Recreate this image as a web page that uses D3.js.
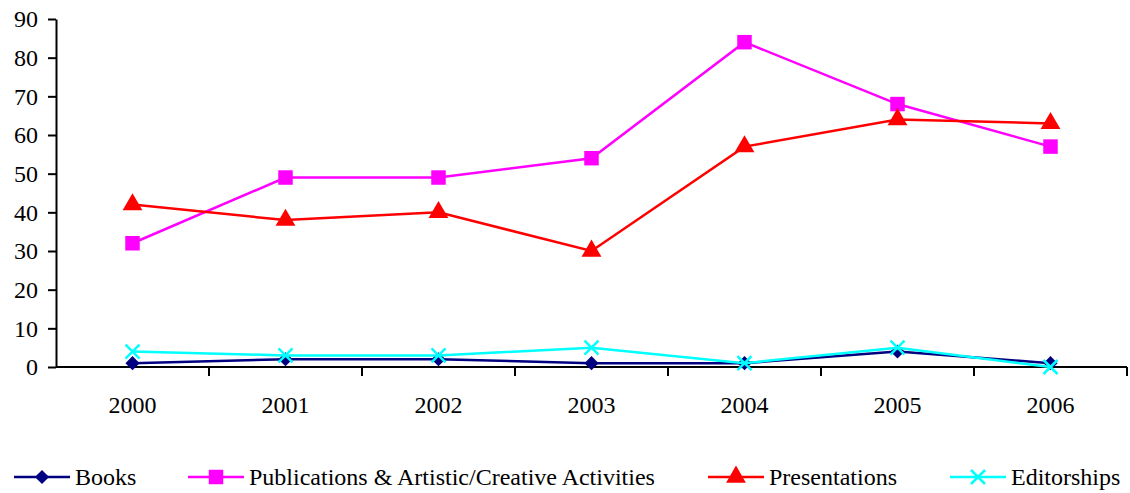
<!DOCTYPE html>
<html>
<head>
<meta charset="utf-8">
<script src="https://cdn.jsdelivr.net/npm/d3@7"></script>
<style>
  body { margin: 0; background: #fff; }
</style>
</head>
<body>
<svg id="chart" width="1130" height="493"></svg>
<script>
const years = ["2000", "2001", "2002", "2003", "2004", "2005", "2006"];
const books = [1, 2, 2, 1, 1, 4, 1];
const publications = [32, 49, 49, 54, 84, 68, 57];
const presentations = [42, 38, 40, 30, 57, 64, 63];
const editorships = [4, 3, 3, 5, 1, 5, 0];
const yTicks = [0, 10, 20, 30, 40, 50, 60, 70, 80, 90];

const FONT = "'Liberation Serif'";

const series = [
  {name: "Books", values: books, color: "#000080", symbol: d3.symbolSquare, size: 100, rot: 45},
  {name: "Publications & Artistic/Creative Activities", values: publications, color: "#ff00ff", symbol: d3.symbolSquare, size: 210, rot: 0},
  {name: "Presentations", values: presentations, color: "#ff0000", symbol: d3.symbolTriangle, size: 170, rot: 0},
  {name: "Editorships", values: editorships, color: "#00ffff", symbol: null, size: 0, rot: 0}
];

const margin = {top: 19, left: 56, right: 3, bottom: 126};
const width = 1130, height = 493;
const svg = d3.select("#chart");

const x = d3.scaleBand()
  .domain(years)
  .range([margin.left, width - margin.right]);

const y = d3.scaleLinear()
  .domain([0, 90])
  .range([height - margin.bottom, margin.top]);

// y axis
const yAxis = svg.append("g")
  .attr("transform", "translate(" + margin.left + ",0)")
  .call(d3.axisLeft(y).tickValues(yTicks).tickSize(8).tickPadding(10).tickSizeOuter(0));
yAxis.select(".domain").attr("stroke", "#000").attr("stroke-width", 2);
yAxis.selectAll(".tick line").attr("stroke", "#000").attr("stroke-width", 2);
yAxis.selectAll(".tick text")
  .style("font-family", FONT)
  .style("font-size", "24px")
  .attr("fill", "#000");

// x axis: ticks between categories
const xAxisG = svg.append("g")
  .attr("transform", "translate(0," + y(0) + ")");
xAxisG.append("line")
  .attr("x1", margin.left).attr("x2", width - margin.right)
  .attr("stroke", "#000").attr("stroke-width", 2);
const bounds = years.map(d => x(d)).concat([x(years[years.length - 1]) + x.bandwidth()]);
xAxisG.selectAll("line.tk")
  .data(bounds.slice(1))
  .join("line")
  .attr("class", "tk")
  .attr("x1", d => d).attr("x2", d => d)
  .attr("y1", 0).attr("y2", 9)
  .attr("stroke", "#000").attr("stroke-width", 2);
xAxisG.selectAll("text")
  .data(years)
  .join("text")
  .attr("x", d => x(d) + x.bandwidth() / 2)
  .attr("y", 46)
  .attr("text-anchor", "middle")
  .style("font-family", FONT)
  .style("font-size", "24px")
  .text(d => d);

const cx = i => x(years[i]) + x.bandwidth() / 2;

function drawMarker(g, s, px, py) {
  if (!s.symbol) {
    const r = 7;
    g.append("path")
      .attr("d", `M${px - r},${py - r}L${px + r},${py + r}M${px - r},${py + r}L${px + r},${py - r}`)
      .attr("stroke", s.color).attr("stroke-width", 2.5).attr("fill", "none");
  } else {
    g.append("path")
      .attr("d", d3.symbol().type(s.symbol).size(s.size)())
      .attr("transform", "translate(" + px + "," + py + ") rotate(" + s.rot + ")")
      .attr("fill", s.color);
  }
}

const line = d3.line().x((d, i) => cx(i)).y(d => y(d));

series.forEach(s => {
  const g = svg.append("g");
  g.append("path")
    .datum(s.values)
    .attr("d", line)
    .attr("fill", "none")
    .attr("stroke", s.color)
    .attr("stroke-width", 2.5);
  s.values.forEach((v, i) => drawMarker(g, s, cx(i), y(v)));
});

// legend
const legendX = [14, 188, 708, 950];
const legendY = 477;
const lg = svg.append("g");
series.forEach((s, i) => {
  const g = lg.append("g");
  const x0 = legendX[i];
  g.append("line")
    .attr("x1", x0).attr("x2", x0 + 56)
    .attr("y1", legendY).attr("y2", legendY)
    .attr("stroke", s.color).attr("stroke-width", 2.5);
  drawMarker(g, s, x0 + 28, legendY);
  g.append("text")
    .attr("x", x0 + 61)
    .attr("y", legendY + 8)
    .style("font-family", FONT)
    .style("font-size", "24px")
    .text(s.name);
});
</script>
</body>
</html>
